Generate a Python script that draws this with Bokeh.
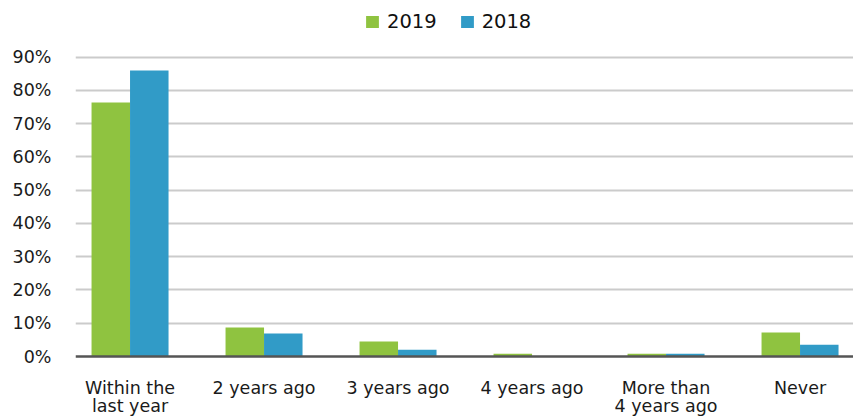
from bokeh.plotting import figure
from bokeh.models import (Range1d, FixedTicker, Legend, LegendItem, Span,
                          PrintfTickFormatter, ColumnDataSource, Label)
from bokeh.transform import dodge
from bokeh.embed import file_html
from bokeh.resources import INLINE

categories = ["Within the\nlast year", "2 years ago", "3 years ago",
              "4 years ago", "More than\n4 years ago", "Never"]
values_2019 = [76.4, 8.7, 4.5, 0.8, 0.8, 7.2]
values_2018 = [86.0, 6.9, 2.0, 0.0, 0.8, 3.5]
series_names = ["2019", "2018"]
y_ticks = [0, 10, 20, 30, 40, 50, 60, 70, 80, 90]

GREEN = "#8fc340"
BLUE = "#319bc7"
FONT = "DejaVu Sans"
FS = "17.5px"
TXT = "#1a1a1a"

W, H = 853, 416
LEFT = 75          # frame left edge (px)
ZERO_PX = 60       # distance of the 0 % baseline above the bottom edge (px)
PX_PER_UNIT = 299.3 / 90.0

xs = list(range(len(categories)))
source = ColumnDataSource(dict(x=xs, v19=values_2019, v18=values_2018))

p = figure(width=W, height=H, output_backend="svg", toolbar_location=None,
           x_range=Range1d(-0.407, 5.399),
           y_range=Range1d(-ZERO_PX / PX_PER_UNIT, (H - ZERO_PX) / PX_PER_UNIT),
           min_border_left=LEFT, min_border_right=0, min_border_top=0,
           min_border_bottom=0, outline_line_color=None)

bw = 0.2873
r19 = p.vbar(x=dodge("x", -bw / 2, range=p.x_range), top="v19", width=bw,
             source=source, fill_color=GREEN, line_color=None)
r18 = p.vbar(x=dodge("x", bw / 2, range=p.x_range), top="v18", width=bw,
             source=source, fill_color=BLUE, line_color=None)

# x axis hidden; baseline and category labels drawn inside the frame
p.xaxis.visible = False
p.add_layout(Span(location=0, dimension="width", line_color="#555555",
                  line_width=2.5))

for xi, cat in zip(xs, categories):
    for k, line in enumerate(cat.split("\n")):
        p.add_layout(Label(x=xi, y=39 - 18 * k, y_units="screen", text=line,
                           text_align="center", text_baseline="top",
                           text_font=FONT, text_font_size=FS,
                           text_color=TXT))

p.yaxis.ticker = FixedTicker(ticks=y_ticks)
p.yaxis.formatter = PrintfTickFormatter(format="%d%%")
p.yaxis.axis_line_color = None
p.yaxis.major_tick_line_color = None
p.yaxis.minor_tick_line_color = None
p.yaxis.major_tick_out = 0
p.yaxis.major_tick_in = 0
p.yaxis.major_label_text_font = FONT
p.yaxis.major_label_text_font_size = FS
p.yaxis.major_label_text_color = TXT
p.yaxis.major_label_standoff = 24

p.xgrid.grid_line_color = None
p.ygrid.ticker = FixedTicker(ticks=y_ticks[1:])
p.ygrid.grid_line_color = "#cbcbcb"
p.ygrid.grid_line_width = 2

legend = Legend(items=[LegendItem(label=series_names[0], renderers=[r19]),
                       LegendItem(label=series_names[1], renderers=[r18])],
                orientation="horizontal", location=(289, 383),
                glyph_width=16, glyph_height=15, label_standoff=7, spacing=22,
                padding=0, margin=0, border_line_color=None,
                background_fill_alpha=0,
                label_text_font=FONT, label_text_font_size="19.5px",
                label_text_color="#111111")
p.add_layout(legend)

open("out.html", "w").write(file_html(p, INLINE))
